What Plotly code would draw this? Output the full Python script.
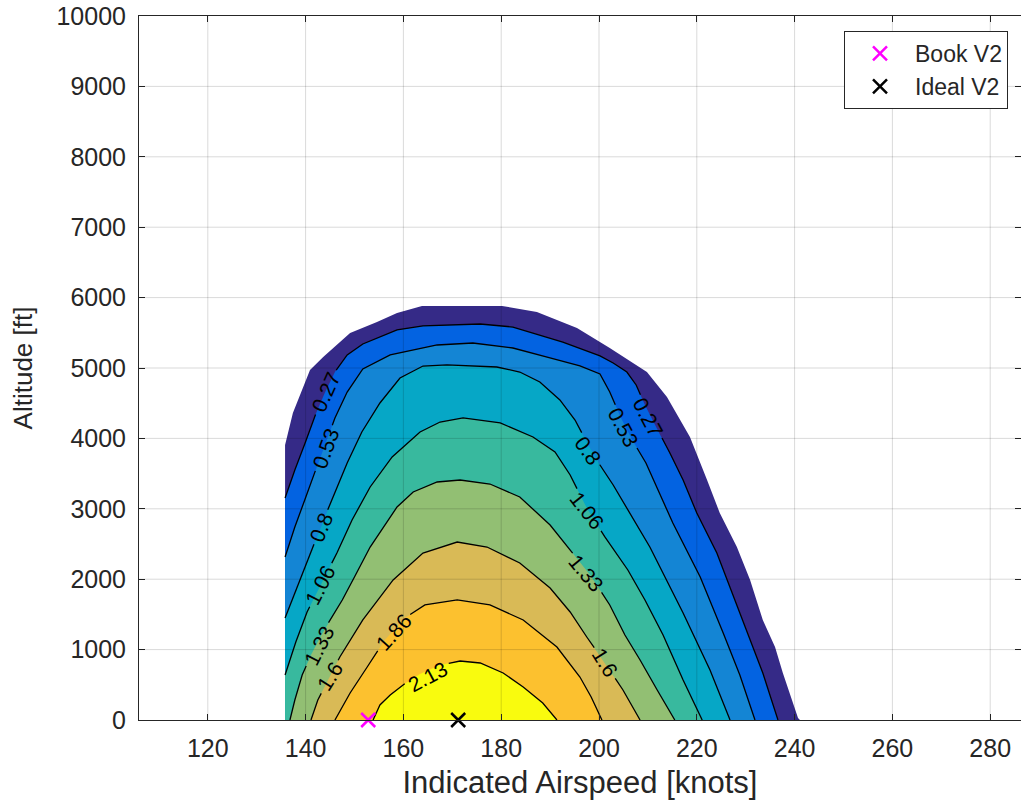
import plotly.graph_objects as go

# ---------------- data ----------------
speed_ticks = [120, 140, 160, 180, 200, 220, 240, 260, 280]
alt_ticks = [0, 1000, 2000, 3000, 4000, 5000, 6000, 7000, 8000, 9000, 10000]

band_colors = ["#352A87", "#0363E1", "#1485D4", "#06A7C6", "#38B99E",
               "#92BF73", "#D9BA56", "#FCC12F", "#F9FB0E"]
level_names = ["0.27", "0.53", "0.8", "1.06", "1.33", "1.6", "1.86", "2.13"]

# outer edge of the valid (non-NaN) region
outer_ias = [135.8, 135.8, 137.4, 140.9, 143.6, 149.1, 154.6, 158.7, 163.8, 180.2, 187.3, 195.5,
             202.2, 209.8, 213.9, 218.6, 222.1, 224.7, 228.2, 230.9, 233.5, 236.0, 237.6, 240.7, 241.1]
outer_alt = [0, 3906, 4361, 4972, 5156, 5497, 5653, 5781, 5881, 5881, 5795, 5568,
             5284, 4943, 4588, 4020, 3409, 2940, 2457, 1989, 1421, 1037, 668, 28, 0]

c027_ias = [135.8, 137.8, 139.9, 141.9, 144.0, 146.0, 148.5, 151.7, 155.2, 158.7, 164.0, 175.7, 182.4, 192.6,
            200.2, 202.9, 205.7, 207.6, 209.4, 211.5, 214.5, 217.2, 220.0, 224.1, 226.8, 229.4, 233.5, 236.6]
c027_alt = [3154, 3551, 3935, 4318, 4659, 4943, 5185, 5341, 5440, 5540, 5597, 5625, 5582, 5369,
            5171, 5071, 4943, 4759, 4475, 4190, 3793, 3409, 2940, 2372, 1889, 1421, 668, 0]

c053_ias = [135.8, 137.8, 139.9, 141.9, 144.0, 146.0, 148.5, 151.7, 157.3, 166.9, 174.2, 182.4, 189.4,
            196.1, 200.2, 202.2, 204.5, 206.8, 209.6, 215.1, 220.7, 225.4, 228.8, 231.9]
c053_alt = [2315, 2742, 3139, 3523, 3906, 4290, 4659, 4986, 5185, 5327, 5355, 5284, 5156,
            5029, 4915, 4659, 4290, 3977, 3651, 2798, 2031, 1236, 639, 0]

c080_ias = [135.8, 138.2, 140.7, 143.1, 145.6, 148.5, 151.5, 155.2, 159.3, 164.0, 168.9, 179.1, 183.8,
            187.9, 192.0, 195.1, 197.8, 200.2, 202.9, 210.4, 217.2, 222.7, 226.8]
c080_alt = [1449, 1875, 2315, 2741, 3168, 3651, 4091, 4503, 4858, 5028, 5043, 5014, 4943,
            4801, 4546, 4261, 3906, 3622, 3338, 2457, 1520, 710, 0]

c106_ias = [135.8, 138.0, 140.3, 143.1, 146.4, 149.5, 153.2, 157.7, 163.4, 167.5, 172.2, 179.8, 186.5,
            191.0, 194.1, 197.5, 201.2, 205.9, 209.4, 213.1, 217.2, 221.1]
c106_alt = [639, 1108, 1534, 1918, 2372, 2841, 3310, 3736, 4091, 4233, 4290, 4219, 4020,
            3807, 3480, 3012, 2600, 2131, 1705, 1207, 568, 0]

c133_ias = [136.8, 137.8, 139.3, 141.1, 143.0, 145.0, 147.5, 150.1, 153.2, 158.7, 162.0, 166.9, 171.6,
            177.7, 183.8, 190.0, 194.1, 198.2, 202.2, 205.3, 208.4, 211.9, 215.5]
c133_alt = [0, 284, 639, 923, 1179, 1421, 1705, 2046, 2457, 3026, 3239, 3381, 3409,
            3352, 3168, 2770, 2415, 2060, 1634, 1207, 852, 426, 0]

c160_ias = [141.1, 142.5, 144.6, 147.0, 151.7, 157.9, 164.0, 171.0, 177.1, 183.8, 190.0, 194.1,
            197.5, 201.2, 204.9, 208.4]
c160_alt = [0, 284, 568, 895, 1421, 1989, 2372, 2528, 2457, 2230, 1875, 1534,
            1179, 810, 426, 0]

c186_ias = [146.0, 149.1, 152.6, 156.2, 160.3, 164.4, 171.0, 177.7, 184.5, 191.4, 196.1, 198.4, 200.6]
c186_alt = [0, 384, 753, 1136, 1449, 1634, 1705, 1634, 1421, 1037, 611, 327, 0]

c213_ias = [153.8, 155.2, 157.3, 159.9, 163.4, 167.5, 171.6, 175.7, 180.4, 184.5, 188.5, 191.4]
c213_alt = [0, 213, 355, 497, 653, 781, 838, 810, 668, 469, 241, 0]

contours_ias = [c027_ias, c053_ias, c080_ias, c106_ias, c133_ias, c160_ias, c186_ias, c213_ias]
contours_alt = [c027_alt, c053_alt, c080_alt, c106_alt, c133_alt, c160_alt, c186_alt, c213_alt]

# inline contour labels
label_text = ["0.27", "0.53", "0.8", "1.06", "1.33", "1.6", "1.86", "2.13",
              "0.27", "0.53", "0.8", "1.06", "1.33", "1.6"]
label_ias = [144.0, 144.2, 143.1, 143.1, 142.7, 145.0, 157.9, 165.0,
             210.0, 204.9, 197.8, 197.5, 197.5, 201.2]
label_alt = [4659, 3850, 2741, 1918, 1065, 611, 1250, 625,
             4290, 4148, 3835, 2969, 2088, 810]
label_angle = [-66, -70, -68, -63, -63, -58, -48, -28,
               62, 62, 55, 52, 50, 58]

book_v2_ias = [152.8]
book_v2_alt = [0]
ideal_v2_ias = [171.2]
ideal_v2_alt = [0]

# ---------------- layout geometry ----------------
W, H = 1021, 810
ML, MR, MT, MB = 139, 0, 16, 90
X_RANGE = [105.93, 286.3]
Y_RANGE = [0, 10000]
PW, PH = W - ML - MR, H - MT - MB
FONT = "Liberation Sans, Arial, Helvetica, sans-serif"
INK = "#262626"
LABEL_SIZE = 21


def to_px(x, y):
    return ((x - X_RANGE[0]) / (X_RANGE[1] - X_RANGE[0]) * PW,
            (Y_RANGE[1] - y) / (Y_RANGE[1] - Y_RANGE[0]) * PH)


def to_data(px, py):
    return (X_RANGE[0] + px / PW * (X_RANGE[1] - X_RANGE[0]),
            Y_RANGE[1] - py / PH * (Y_RANGE[1] - Y_RANGE[0]))


def cut_line(xs, ys, cuts):
    """Break the polyline where inline labels sit (like clabel does)."""
    pts = [to_px(x, y) for x, y in zip(xs, ys)]
    ox, oy = [], []
    open_ = False
    for i in range(len(pts) - 1):
        (ax, ay), (bx, by) = pts[i], pts[i + 1]
        dx, dy = bx - ax, by - ay
        a = dx * dx + dy * dy
        ints = []
        for (cx, cy, r) in cuts:
            fx, fy = ax - cx, ay - cy
            b = 2 * (fx * dx + fy * dy)
            c = fx * fx + fy * fy - r * r
            disc = b * b - 4 * a * c
            if a == 0 or disc <= 0:
                continue
            s = disc ** 0.5
            lo, hi = max((-b - s) / (2 * a), 0.0), min((-b + s) / (2 * a), 1.0)
            if lo < hi:
                ints.append((lo, hi))
        ints.sort()
        vis, cur = [], 0.0
        for lo, hi in ints:
            if lo > cur:
                vis.append((cur, lo))
            cur = max(cur, hi)
        if cur < 1.0:
            vis.append((cur, 1.0))
        if not vis:
            open_ = False
        for t0, t1 in vis:
            if not (open_ and t0 == 0.0):
                if ox:
                    ox.append(None)
                    oy.append(None)
                x, y = to_data(ax + t0 * dx, ay + t0 * dy)
                ox.append(x)
                oy.append(y)
            x, y = to_data(ax + t1 * dx, ay + t1 * dy)
            ox.append(x)
            oy.append(y)
            open_ = (t1 == 1.0)
    return ox, oy


def text_len(s):
    return sum(0.278 if ch == "." else 0.556 for ch in s) * LABEL_SIZE


fig = go.Figure()

# filled bands, outermost first
fig.add_trace(go.Scatter(x=outer_ias, y=outer_alt, mode="lines", fill="toself",
                         fillcolor=band_colors[0], line=dict(width=0),
                         hoverinfo="skip", showlegend=False))
for k, (xs, ys) in enumerate(zip(contours_ias, contours_alt)):
    px_, py_ = list(xs), list(ys)
    if py_[0] > 0:  # contour starts on the left (NaN) edge: close along that edge
        px_.append(px_[0])
        py_.append(0)
    fig.add_trace(go.Scatter(x=px_, y=py_, mode="lines", fill="toself",
                             fillcolor=band_colors[k + 1], line=dict(width=0),
                             hoverinfo="skip", showlegend=False))

# contour lines, broken at the labels
for k, (xs, ys) in enumerate(zip(contours_ias, contours_alt)):
    cuts = []
    for t, lx, ly in zip(label_text, label_ias, label_alt):
        if t == level_names[k]:
            cx, cy = to_px(lx, ly)
            cuts.append((cx, cy, text_len(t) / 2 + 4))
    lx_, ly_ = cut_line(xs, ys, cuts)
    fig.add_trace(go.Scatter(x=lx_, y=ly_, mode="lines",
                             line=dict(color="black", width=1.3),
                             hoverinfo="skip", showlegend=False))

# V2 markers
fig.add_trace(go.Scatter(x=book_v2_ias, y=book_v2_alt, mode="markers", name="Book V2",
                         marker=dict(symbol="x-thin", size=14, color="#FF00FF",
                                     line=dict(width=2.5, color="#FF00FF")),
                         cliponaxis=False))
fig.add_trace(go.Scatter(x=ideal_v2_ias, y=ideal_v2_alt, mode="markers", name="Ideal V2",
                         marker=dict(symbol="x-thin", size=14, color="black",
                                     line=dict(width=2.5, color="black")),
                         cliponaxis=False))

annotations = []
for t, lx, ly, ang in zip(label_text, label_ias, label_alt, label_angle):
    annotations.append(dict(x=lx, y=ly, xref="x", yref="y", text=t, showarrow=False,
                            textangle=ang, font=dict(family=FONT, size=LABEL_SIZE, color="black")))

shapes = []
grid_col = "rgba(0,0,0,0.15)"
for v in speed_ticks:
    shapes.append(dict(type="line", xref="x", yref="paper", x0=v, x1=v, y0=0, y1=1,
                       line=dict(color=grid_col, width=1), layer="above"))
for v in alt_ticks[1:-1]:
    shapes.append(dict(type="line", xref="paper", yref="y", x0=0, x1=1, y0=v, y1=v,
                       line=dict(color=grid_col, width=1), layer="above"))

axis_common = dict(showgrid=False, zeroline=False, showline=True, linecolor=INK, linewidth=1,
                   mirror="ticks", ticks="inside", ticklen=6, tickcolor=INK, tickwidth=1,
                   layer="above traces", ticklabeloverflow="allow",
                   tickfont=dict(family=FONT, size=25, color=INK))

fig.update_layout(
    width=W, height=H,
    margin=dict(l=ML, r=MR, t=MT, b=MB, autoexpand=False),
    paper_bgcolor="white", plot_bgcolor="white",
    font=dict(family=FONT, color=INK),
    xaxis=dict(range=X_RANGE, tickvals=speed_ticks, ticktext=[str(v) for v in speed_ticks],
               ticklabelstandoff=6,
               title=dict(text="Indicated Airspeed [knots]", font=dict(family=FONT, size=31, color=INK),
                          standoff=10),
               **axis_common),
    yaxis=dict(range=Y_RANGE, tickvals=alt_ticks, ticktext=[str(v) for v in alt_ticks],
               ticklabelstandoff=7,
               title=dict(text="Altitude [ft]", font=dict(family=FONT, size=26, color=INK),
                          standoff=16),
               **axis_common),
    legend=dict(x=(1008 - ML) / PW, xanchor="right",
                y=(H - MB - 31) / PH, yanchor="top",
                bgcolor="white", bordercolor=INK, borderwidth=1, itemwidth=60,
                font=dict(family=FONT, size=23, color=INK)),
    annotations=annotations,
    shapes=shapes,
)

# remove the page's default body margin so the figure fills the window exactly
fig.write_html("out.html", config={"displayModeBar": False},
               post_script="document.body.style.margin='0';document.body.style.overflow='hidden';")
